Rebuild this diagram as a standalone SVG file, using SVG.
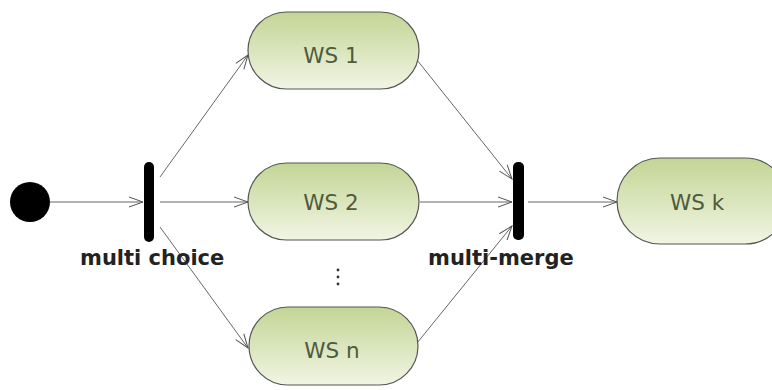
<svg xmlns="http://www.w3.org/2000/svg" width="772" height="390" viewBox="0 0 772 390">
  <defs>
    <linearGradient id="wsFill" x1="0" y1="0" x2="0" y2="1">
      <stop offset="0" stop-color="#c3d595"/>
      <stop offset="1" stop-color="#f1f5e4"/>
    </linearGradient>
    <marker id="open" markerWidth="16" markerHeight="12" refX="15" refY="6" orient="auto" markerUnits="userSpaceOnUse">
      <path d="M1,1 L15,6 L1,11" fill="none" stroke="#555" stroke-width="1"/>
    </marker>
    <style>
      .ws { fill: url(#wsFill); stroke: #555; stroke-width: 1.2; }
      .wsText { font-family: "DejaVu Sans", Verdana, sans-serif; font-size: 21.5px; fill: #505a3c; text-anchor: middle; }
      .label { font-family: "DejaVu Sans", Verdana, sans-serif; font-size: 21px; font-weight: bold; fill: #222; }
      .edge { fill: none; stroke: #666; stroke-width: 1; marker-end: url(#open); }
      .bar { fill: #000; }
    </style>
  </defs>

  <g id="connectors">
    <line class="edge" x1="50" y1="202" x2="143" y2="202"/>
    <line class="edge" x1="160" y1="177" x2="248" y2="55"/>
    <line class="edge" x1="160" y1="202" x2="248" y2="202"/>
    <line class="edge" x1="160" y1="227" x2="248" y2="348"/>
    <line class="edge" x1="417" y1="60" x2="512" y2="179"/>
    <line class="edge" x1="420" y1="202" x2="512" y2="202"/>
    <line class="edge" x1="417" y1="343" x2="512" y2="226"/>
    <line class="edge" x1="528" y1="202" x2="617" y2="202"/>
  </g>

  <g id="start">
    <circle cx="30" cy="202" r="20" fill="#000"/>
  </g>

  <g id="multi-choice">
    <rect class="bar" x="144" y="162" width="10" height="80" rx="5"/>
    <text class="label" x="80" y="265">multi choice</text>
  </g>

  <g id="ws1">
    <rect class="ws" x="248" y="12" width="171" height="77" rx="38.5"/>
    <text class="wsText" x="331" y="63">WS 1</text>
  </g>

  <g id="ws2">
    <rect class="ws" x="248" y="163" width="171" height="77" rx="38.5"/>
    <text class="wsText" x="331" y="210">WS 2</text>
  </g>

  <g id="ellipsis">
    <circle cx="338" cy="270" r="1.4" fill="#333"/>
    <circle cx="338" cy="277" r="1.4" fill="#333"/>
    <circle cx="338" cy="284" r="1.4" fill="#333"/>
  </g>

  <g id="wsn">
    <rect class="ws" x="249" y="307" width="169" height="78" rx="39"/>
    <text class="wsText" x="332" y="358">WS n</text>
  </g>

  <g id="multi-merge">
    <rect class="bar" x="513" y="162" width="11" height="78" rx="5"/>
    <text class="label" x="428" y="265">multi-merge</text>
  </g>

  <g id="wsk">
    <rect class="ws" x="617" y="158" width="171" height="86" rx="43"/>
    <text class="wsText" x="697" y="210">WS k</text>
  </g>
</svg>
